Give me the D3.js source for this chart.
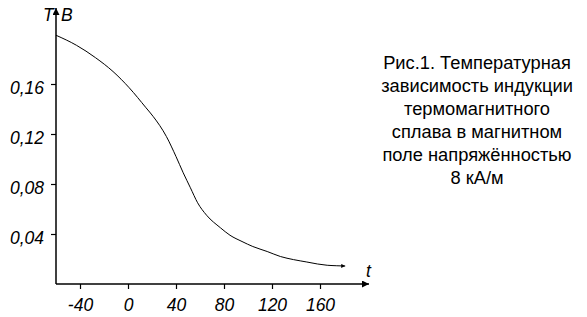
<!DOCTYPE html>
<html>
<head>
<meta charset="utf-8">
<script src="https://cdn.jsdelivr.net/npm/d3@7"></script>
<style>
body { margin: 0; background: #fff; }
svg { font-family: "Liberation Sans", Arial, sans-serif; }
</style>
</head>
<body>
<div id="chart"></div>
<script>
// temperature, deg C
var temps = [-60, -43, -27, -12.5, 1, 15, 21, 32, 40, 46, 52, 58, 65.5, 77, 85, 95, 104, 116, 127, 138, 149, 158, 166, 174, 181];
// induction B, T
var induct = [0.199, 0.191, 0.181, 0.170, 0.157, 0.141, 0.134, 0.118, 0.102, 0.089, 0.077, 0.065, 0.055, 0.045, 0.039, 0.034, 0.030, 0.026, 0.022, 0.0195, 0.0176, 0.016, 0.015, 0.0146, 0.0144];
var xTicks = [-40, 0, 40, 80, 120, 160];
var yTicks = [0.04, 0.08, 0.12, 0.16];
var caption = ["Рис.1. Температурная", "зависимость индукции", "термомагнитного", "сплава в магнитном", "поле напряжённостью", "8 кА/м"];

var chart = {
	w: 587,
	h: 317,
	svg: null
};

function drawChart() {
	chart.svg = d3.select('#chart').append('svg')
		.attr('width', chart.w)
		.attr('height', chart.h);

	var xScale = d3.scaleLinear()
		.domain([-60, 180])
		.range([56, 344]);
	var yScale = d3.scaleLinear()
		.domain([0, 0.2])
		.range([284, 34]);

	var defs = chart.svg.append('defs');
	defs.append('marker')
		.attr('id', 'ah')
		.attr('viewBox', '0 0 10 10')
		.attr('refX', 10).attr('refY', 5)
		.attr('markerWidth', 11).attr('markerHeight', 7)
		.attr('markerUnits', 'userSpaceOnUse')
		.attr('orient', 'auto')
		.append('path').attr('d', 'M0,0L10,5L0,10Z').attr('fill', '#000');
	defs.append('marker')
		.attr('id', 'ahs')
		.attr('viewBox', '0 0 10 10')
		.attr('refX', 10).attr('refY', 5)
		.attr('markerWidth', 7).attr('markerHeight', 4)
		.attr('markerUnits', 'userSpaceOnUse')
		.attr('orient', 'auto')
		.append('path').attr('d', 'M0,0L10,5L0,10Z').attr('fill', '#000');

	var xAxis = d3.axisBottom(xScale)
		.tickValues(xTicks)
		.tickSize(5)
		.tickFormat(d => String(d));
	var yAxis = d3.axisLeft(yScale)
		.tickValues(yTicks)
		.tickSize(5)
		.tickFormat(d => d.toFixed(2).replace('.', ','));

	chart.svg.append('g')
		.attr('transform', 'translate(0,' + yScale(0) + ')')
		.call(xAxis)
		.call(g => g.select('.domain').remove())
		.call(g => g.selectAll('line').attr('stroke', '#000').attr('stroke-width', 1.2))
		.call(g => g.selectAll('text')
			.attr('dy', 0).attr('y', 27)
			.attr('font-size', 17.5).attr('font-style', 'italic')
			.attr('font-family', '"Liberation Sans", Arial, sans-serif')
			.attr('fill', '#000'));

	chart.svg.append('g')
		.attr('transform', 'translate(' + xScale(-60) + ',0)')
		.call(yAxis)
		.call(g => g.select('.domain').remove())
		.call(g => g.selectAll('line').attr('stroke', '#000').attr('stroke-width', 1.2))
		.call(g => g.selectAll('text')
			.attr('x', -12).attr('dy', '0.55em')
			.attr('font-size', 17.5).attr('font-style', 'italic')
			.attr('font-family', '"Liberation Sans", Arial, sans-serif')
			.attr('fill', '#000'));

	// axes with arrows
	chart.svg.append('line')
		.attr('x1', xScale(-60)).attr('y1', yScale(0))
		.attr('x2', 369).attr('y2', yScale(0))
		.attr('stroke', '#000').attr('stroke-width', 1.5)
		.attr('marker-end', 'url(#ah)');
	chart.svg.append('line')
		.attr('x1', xScale(-60)).attr('y1', yScale(0))
		.attr('x2', xScale(-60)).attr('y2', 8)
		.attr('stroke', '#000').attr('stroke-width', 1.5)
		.attr('marker-end', 'url(#ah)');

	var line = d3.line()
		.x((d, i) => xScale(temps[i]))
		.y(d => yScale(d))
		.curve(d3.curveMonotoneX);

	chart.svg.append('path')
		.datum(induct)
		.attr('d', line)
		.attr('fill', 'none')
		.attr('stroke', '#000')
		.attr('stroke-width', 1)
		.attr('marker-end', 'url(#ahs)');

	chart.svg.append('text')
		.attr('x', 43).attr('y', 21)
		.attr('font-size', 17.5).attr('font-style', 'italic')
		.text('T');
	chart.svg.append('text')
		.attr('x', 61).attr('y', 21)
		.attr('font-size', 17.5).attr('font-style', 'italic')
		.text('B');
	chart.svg.append('text')
		.attr('x', 366).attr('y', 277)
		.attr('font-size', 17.5).attr('font-style', 'italic')
		.text('t');

	chart.svg.append('g')
		.selectAll('text')
		.data(caption).enter()
		.append('text')
		.attr('x', 477)
		.attr('y', (d, i) => 69 + i * 23)
		.attr('text-anchor', 'middle')
		.attr('font-size', 18.3)
		.attr('fill', '#000')
		.text(d => d);
}
drawChart();
</script>
</body>
</html>
